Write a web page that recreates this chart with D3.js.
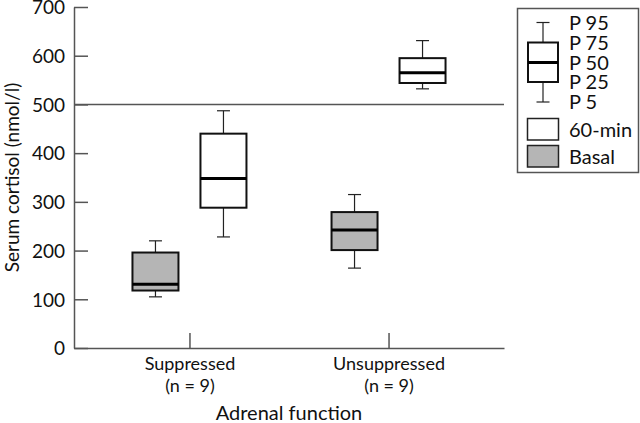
<!DOCTYPE html>
<html lang="en">
<head>
<meta charset="UTF-8">
<title>Serum cortisol box plot</title>
<script src="https://d3js.org/d3.v7.min.js"></script>
<style>
  body { margin: 0; background: #fff; }
  text { font-family: Lato, "Open Sans", sans-serif; fill: #111; }
  .axis path, .axis line { stroke: #555; stroke-width: 1.5px; }
</style>
</head>
<body>
<div id="chart"></div>
<script>
var categories = ["Suppressed", "Unsuppressed"];
var catNotes = ["(n = 9)", "(n = 9)"];
var yTicks = [0, 100, 200, 300, 400, 500, 600, 700];

// percentiles per category, order: Suppressed, Unsuppressed
var basalP5  = [105, 164];
var basalP25 = [118, 201];
var basalP50 = [131, 242];
var basalP75 = [196, 279];
var basalP95 = [220, 315];

var minP5  = [228, 532];
var minP25 = [288, 544];
var minP50 = [348, 565];
var minP75 = [440, 595];
var minP95 = [487, 631];

var cutoff = 500;

var width = 640, height = 423;
var margin = { left: 74, right: 504, top: 7, bottom: 348 };

var svg = d3.select("#chart").append("svg")
    .attr("width", width)
    .attr("height", height);

var x = d3.scalePoint().domain(categories).range([margin.left, margin.right]).padding(0.58);
var y = d3.scaleLinear().domain([0, 700]).range([margin.bottom, margin.top]);

// y axis, ticks pointing inward
var yAxis = svg.append("g").attr("class", "axis")
    .attr("transform", "translate(" + margin.left + ",0)")
    .call(d3.axisRight(y).tickValues(yTicks).tickSize(14).tickSizeOuter(0));
yAxis.selectAll("text").remove();
yAxis.selectAll(".tick").append("text")
    .attr("x", -9).attr("dy", "0.36em")
    .attr("text-anchor", "end")
    .style("font-size", "19px")
    .text(function(d) { return d; });

// x axis, ticks pointing up
var xAxis = svg.append("g").attr("class", "axis")
    .attr("transform", "translate(0," + margin.bottom + ")")
    .call(d3.axisTop(x).tickSize(15).tickSizeOuter(0));
xAxis.selectAll("text").remove();
xAxis.selectAll(".tick").each(function(d, i) {
    var g = d3.select(this);
    g.append("text").attr("y", 22).attr("text-anchor", "middle")
        .style("font-size", "18px").text(d);
    g.append("text").attr("y", 44).attr("text-anchor", "middle")
        .style("font-size", "18px").text(catNotes[i]);
});

svg.append("text")
    .attr("x", (x(categories[0]) + x(categories[1])) / 2)
    .attr("y", 420)
    .attr("text-anchor", "middle")
    .style("font-size", "20px")
    .text("Adrenal function");

svg.append("text")
    .attr("transform", "translate(19," + ((margin.top + margin.bottom) / 2) + ") rotate(-90)")
    .attr("text-anchor", "middle")
    .style("font-size", "19px")
    .text("Serum cortisol (nmol/l)");

// reference line at 500
svg.append("line")
    .attr("x1", margin.left).attr("x2", margin.right)
    .attr("y1", y(cutoff)).attr("y2", y(cutoff))
    .attr("stroke", "#555").attr("stroke-width", 1.5);

var boxW = 46, capW = 13, offset = 34;

function drawBox(cx, p5, p25, p50, p75, p95, fill) {
    var g = svg.append("g");
    g.append("line").attr("x1", cx).attr("x2", cx).attr("y1", y(p95)).attr("y2", y(p75))
        .attr("stroke", "#222").attr("stroke-width", 1.2);
    g.append("line").attr("x1", cx).attr("x2", cx).attr("y1", y(p25)).attr("y2", y(p5))
        .attr("stroke", "#222").attr("stroke-width", 1.2);
    g.append("line").attr("x1", cx - capW / 2).attr("x2", cx + capW / 2).attr("y1", y(p95)).attr("y2", y(p95))
        .attr("stroke", "#222").attr("stroke-width", 1.2);
    g.append("line").attr("x1", cx - capW / 2).attr("x2", cx + capW / 2).attr("y1", y(p5)).attr("y2", y(p5))
        .attr("stroke", "#222").attr("stroke-width", 1.2);
    g.append("rect").attr("x", cx - boxW / 2).attr("width", boxW)
        .attr("y", y(p75)).attr("height", y(p25) - y(p75))
        .attr("fill", fill).attr("stroke", "#111").attr("stroke-width", 2);
    g.append("line").attr("x1", cx - boxW / 2).attr("x2", cx + boxW / 2).attr("y1", y(p50)).attr("y2", y(p50))
        .attr("stroke", "#000").attr("stroke-width", 3);
}

categories.forEach(function(c, i) {
    drawBox(x(c) - offset, basalP5[i], basalP25[i], basalP50[i], basalP75[i], basalP95[i], "#b5b5b5");
    drawBox(x(c) + offset, minP5[i], minP25[i], minP50[i], minP75[i], minP95[i], "#fff");
});

// legend
var leg = svg.append("g");
leg.append("rect").attr("x", 517.5).attr("y", 8.5).attr("width", 121).attr("height", 164)
    .attr("fill", "#fff").attr("stroke", "#555").attr("stroke-width", 1.5);
var lcx = 543;
var legY = [22.5, 42.5, 62.5, 82, 102]; // P95, P75, P50, P25, P5 positions
var legLabels = ["P 95", "P 75", "P 50", "P 25", "P 5"];
leg.append("line").attr("x1", lcx).attr("x2", lcx).attr("y1", legY[0]).attr("y2", legY[4])
    .attr("stroke", "#222").attr("stroke-width", 1.2);
[legY[0], legY[4]].forEach(function(v) {
    leg.append("line").attr("x1", lcx - 6.5).attr("x2", lcx + 6.5).attr("y1", v).attr("y2", v)
        .attr("stroke", "#222").attr("stroke-width", 1.2);
});
leg.append("rect").attr("x", lcx - 15).attr("width", 30).attr("y", legY[1]).attr("height", legY[3] - legY[1])
    .attr("fill", "#fff").attr("stroke", "#111").attr("stroke-width", 2);
leg.append("line").attr("x1", lcx - 15).attr("x2", lcx + 15).attr("y1", legY[2]).attr("y2", legY[2])
    .attr("stroke", "#000").attr("stroke-width", 3);
legLabels.forEach(function(t, i) {
    leg.append("text").attr("x", 569).attr("y", legY[i]).attr("dy", "0.36em")
        .style("font-size", "20px").text(t);
});
var swatches = [{label: "60-min", fill: "#fff", y: 118.5}, {label: "Basal", fill: "#b5b5b5", y: 145.5}];
swatches.forEach(function(s) {
    leg.append("rect").attr("x", 527.5).attr("y", s.y).attr("width", 31).attr("height", 21.5)
        .attr("fill", s.fill).attr("stroke", "#222").attr("stroke-width", 1.5);
    leg.append("text").attr("x", 569).attr("y", s.y + 11).attr("dy", "0.36em")
        .style("font-size", "20px").text(s.label);
});
</script>
</body>
</html>
